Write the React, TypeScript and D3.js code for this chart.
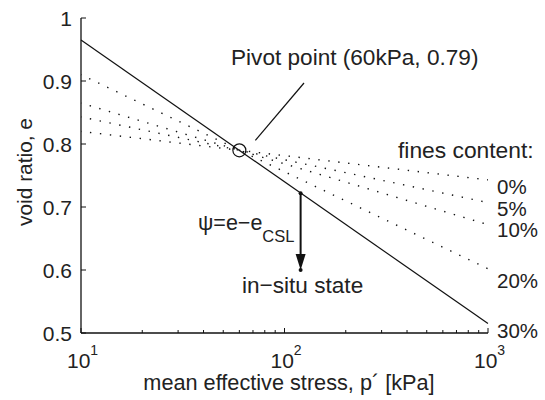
import React from 'react';
import * as d3 from 'd3';

// fines content curves: void ratio at p' = 10 kPa and p' = 1000 kPa
const finesLabels = ['0%', '5%', '10%', '20%', '30%'];
const eAt10 = [0.82, 0.843, 0.865, 0.91, 0.965];
const eAt1000 = [0.743, 0.707, 0.672, 0.602, 0.515];
const pivot = { p: 60, e: 0.79 };
const insitu = { p: 120, eCsl: 0.722, e: 0.6 };
const yTicks = [0.5, 0.6, 0.7, 0.8, 0.9, 1];
const xMajor = [10, 100, 1000];

const W = 545;
const H = 400;
const margin = { top: 18, right: 57, bottom: 67, left: 81 };
const font = '"Liberation Sans", Arial, sans-serif';

export default function App() {
  const x = d3.scaleLog().domain([10, 1000]).range([margin.left, W - margin.right]);
  const y = d3.scaleLinear().domain([0.5, 1]).range([H - margin.bottom, margin.top]);
  const x0 = margin.left;
  const y0 = H - margin.bottom;

  const minor = d3.range(1, 3).flatMap(dec => d3.range(2, 10).map(m => m * Math.pow(10, dec)));
  const line = d3.line<[number, number]>().x(d => x(d[0])).y(d => y(d[1]));
  const labelDy = [14, 13, 12, 19, 14];
  const lastIdx = finesLabels.length - 1;

  const px = x(pivot.p);
  const py = y(pivot.e);
  const ax = x(insitu.p);

  return (
    <svg width={W} height={H} style={{ position: 'absolute', left: 0, top: 0, background: '#fff' }}
      fontFamily={font} fill="#222">
      {/* fines content lines */}
      {finesLabels.map((lab, i) => (
        <path key={lab}
          d={line([[10, eAt10[i]], [1000, eAt1000[i]]]) || ''}
          fill="none" stroke="#111"
          strokeWidth={i === lastIdx ? 1.2 : 1.4}
          strokeDasharray={i === lastIdx ? undefined : '1.4 8.6'}
          strokeDashoffset={i === lastIdx ? 0 : -9} />
      ))}
      {finesLabels.map((lab, i) => (
        <text key={'l' + lab} x={497} y={y(eAt1000[i]) + labelDy[i]} fontSize={20.5}>{lab}</text>
      ))}
      <text x={398} y={158} fontSize={22.8}>fines content:</text>

      {/* pivot */}
      <circle cx={px} cy={py} r={6.5} fill="none" stroke="#111" strokeWidth={1.2} />
      <line x1={px + 16} y1={py - 10} x2={304} y2={83} stroke="#111" strokeWidth={1.2} />
      <text x={231} y={65} fontSize={22.6}>Pivot point (60kPa, 0.79)</text>

      {/* state parameter arrow */}
      <line x1={ax} y1={y(insitu.eCsl)} x2={ax} y2={y(insitu.e) - 12} stroke="#111" strokeWidth={2} />
      <path d={`M${ax - 5},${y(insitu.e) - 16} L${ax + 5},${y(insitu.e) - 16} L${ax},${y(insitu.e)} Z`} fill="#111" />
      <circle cx={ax} cy={y(insitu.eCsl)} r={2} fill="#111" />
      <circle cx={ax} cy={y(insitu.e)} r={2} fill="#111" />
      <text x={198} y={230} fontSize={21.5}>ψ=e−e<tspan dy={12} fontSize={16.5}>CSL</tspan></text>
      <text x={242} y={293} fontSize={22.6}>in−situ state</text>

      {/* axes */}
      <line x1={x0} y1={y0} x2={x(1000)} y2={y0} stroke="#111" strokeWidth={1.3} />
      <line x1={x0} y1={y0} x2={x0} y2={margin.top} stroke="#111" strokeWidth={1.3} />
      {yTicks.map(t => (
        <g key={t}>
          <line x1={x0} x2={x0 + 5} y1={y(t)} y2={y(t)} stroke="#111" strokeWidth={1} />
          <text x={x0 - 9} y={y(t)} dy="0.36em" textAnchor="end" fontSize={21}>{t === 1 ? '1' : t.toFixed(1)}</text>
        </g>
      ))}
      {minor.map(t => (
        <line key={t} x1={x(t)} x2={x(t)} y1={y0} y2={y0 - 3} stroke="#111" strokeWidth={1} />
      ))}
      {xMajor.map(t => (
        <g key={t}>
          <line x1={x(t)} x2={x(t)} y1={y0} y2={y0 - 5} stroke="#111" strokeWidth={1} />
          <text x={x(t) - 14} y={368} fontSize={21}>10<tspan dy={-13} fontSize={14}>{Math.round(Math.log10(t))}</tspan></text>
        </g>
      ))}
      <text x={289} y={390} textAnchor="middle" fontSize={21.7}>mean effective stress, p´ [kPa]</text>
      <text transform={`translate(32,172) rotate(-90)`} textAnchor="middle" fontSize={20.9}>void ratio, e</text>
    </svg>
  );
}
